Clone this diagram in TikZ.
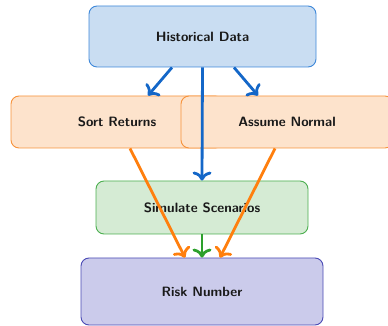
\documentclass[tikz,border=0pt]{standalone}
\usetikzlibrary{arrows.meta,calc}
\definecolor{bfill}{HTML}{C9DDF2}\definecolor{bdraw}{HTML}{3D87D9}
\definecolor{ofill}{HTML}{FDE3CC}\definecolor{odraw}{HTML}{F7923A}
\definecolor{gfill}{HTML}{D5EBD4}\definecolor{gdraw}{HTML}{4CAF50}
\definecolor{pfill}{HTML}{CBCBEB}\definecolor{pdraw}{HTML}{4A4AB5}
\definecolor{barrow}{HTML}{1467C8}\definecolor{oarrow}{HTML}{FF7F0E}\definecolor{garrow}{HTML}{2CA02C}
\tikzset{
  box/.style={rectangle, rounded corners=8pt, line width=0.9pt, font=\sffamily\bfseries\fontsize{13.5}{16}\selectfont, text=black!90},
  conn/.style={line width=2.8pt, -{Computer Modern Rightarrow[length=9pt,width=19pt]}},
}
\begin{document}
\begin{tikzpicture}[x=1pt,y=1pt]
\useasboundingbox (0,0) rectangle (388,326);
\node[box, fill=bfill, draw=bdraw, minimum width=227pt, minimum height=61pt] (hist) at (202.5,289.5) {Historical Data};
\node[box, fill=ofill, draw=odraw, minimum width=212pt, minimum height=52pt] (sort) at (117,204) {Sort Returns};
\node[box, fill=ofill, draw=odraw, minimum width=212pt, minimum height=52pt] (assume) at (287,204) {Assume Normal};
\node[box, fill=gfill, draw=gdraw, minimum width=212pt, minimum height=53pt] (sim) at (202,118.5) {Simulate Scenarios};
\node[box, fill=pfill, draw=pdraw, minimum width=242pt, minimum height=67pt] (risk) at (202,34.5) {Risk Number};
\draw[conn, barrow] ($(hist.south)+(-30.5,0)$) -- ($(sort.north)+(31,0)$);
\draw[conn, barrow] ($(hist.south)+(31.5,0)$) -- ($(assume.north)+(-29,0)$);
\draw[conn, barrow] (hist.south) -- (sim.north);
\draw[conn, oarrow] ($(sort.south)+(13,0)$) -- ($(risk.north)+(-17,0)$);
\draw[conn, oarrow] ($(assume.south)+(-12,0)$) -- ($(risk.north)+(18,0)$);
\draw[conn, garrow] (sim.south) -- (risk.north);
\end{tikzpicture}
\end{document}
